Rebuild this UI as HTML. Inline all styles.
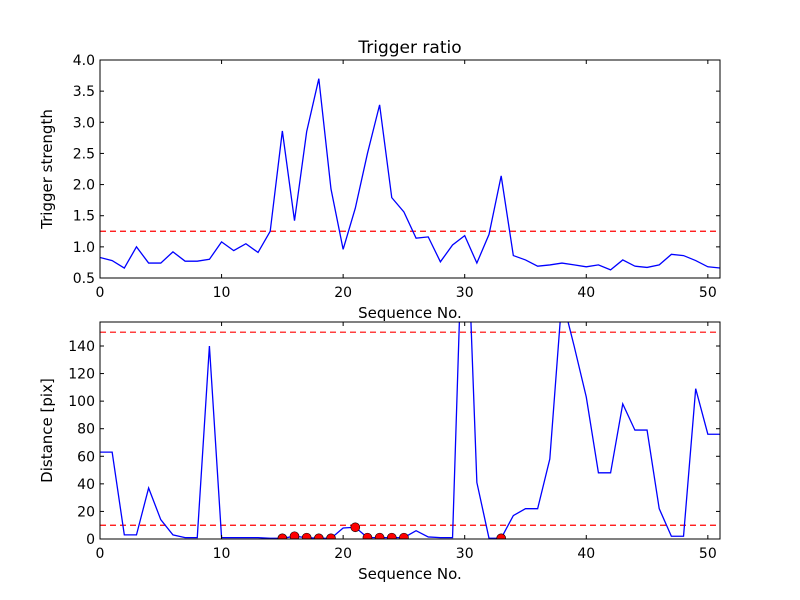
<!DOCTYPE html>
<html><head><meta charset="utf-8"><style>
html,body{margin:0;padding:0;background:#fff}
svg{display:block;font-family:"DejaVu Sans","Liberation Sans",sans-serif}
</style></head><body>
<svg id="chart" width="800" height="600" viewBox="0 0 800 600">
<rect width="800" height="600" fill="#fff"/>
<text x="410" y="53" font-size="17" text-anchor="middle">Trigger ratio</text>
<g id="topPanel"></g>
<g id="botPanel"></g>
</svg>
<script>
const seq = Array.from({length:52},(_,i)=>i);
const strength = [0.83,0.78,0.66,1.0,0.74,0.74,0.92,0.77,0.77,0.80,1.08,0.94,1.05,0.91,1.25,2.86,1.42,2.85,3.70,1.93,0.96,1.62,2.50,3.28,1.79,1.56,1.14,1.16,0.76,1.03,1.18,0.74,1.20,2.14,0.86,0.79,0.69,0.71,0.74,0.71,0.68,0.71,0.63,0.79,0.69,0.67,0.71,0.88,0.86,0.78,0.68,0.66];
const distance = [63,63,3,3,37,14,3,1,1,140,1,1,1,1,0.5,0.5,2,1,0.5,0.5,8,8.5,1,1,1,1,6,1.5,1,1,280,41,0.5,0.5,17,22,22,58,175,140,103,48,48,98,79,79,22,2,2,109,76,76];
const flagged = [15,16,17,18,19,21,22,23,24,25,33];
const strengthThreshold = [1.25];
const distanceThresholds = [10,150];
const xTicks = [0,10,20,30,40,50];
const yTicksTop = [0.5,1.0,1.5,2.0,2.5,3.0,3.5,4.0];
const yTicksBot = [0,20,40,60,80,100,120,140];

const NS="http://www.w3.org/2000/svg";
function mk(parent,tag,attrs){const e=document.createElementNS(NS,tag);for(const k in attrs)e.setAttribute(k,attrs[k]);parent.appendChild(e);return e;}

function panel(g,box,ymin,ymax,yTicks,ylab,fmt,series,thresholds,markers,name){
  const X=v=>box.x+(v-0)/(51-0)*box.w;
  const Y=v=>box.y+box.h-(v-ymin)/(ymax-ymin)*box.h;
  const cp=mk(g,'clipPath',{id:'clip-'+name});
  mk(cp,'rect',{x:box.x,y:box.y,width:box.w,height:box.h});
  const plot=mk(g,'g',{'clip-path':'url(#clip-'+name+')'});
  thresholds.forEach(t=>{
    const l=mk(plot,'line',{x1:box.x,x2:box.x+box.w,y1:Y(t),y2:Y(t),stroke:'#ff0000','stroke-width':1.2,'stroke-dasharray':'6,4'});
    
    
  });
  const p=mk(plot,'polyline',{points:seq.map(i=>X(i)+','+Y(series[i])).join(' '),fill:'none',stroke:'#0000ff','stroke-width':1.3});
  
  
  markers.forEach(i=>{
    const c=mk(plot,'circle',{cx:X(i),cy:Y(series[i]),r:4.5,fill:'#ff0000',stroke:'#000','stroke-width':0.6});
    
    
  });
  const fr=mk(g,'rect',{x:box.x,y:box.y,width:box.w,height:box.h,fill:'none',stroke:'#000','stroke-width':1});
  
  
  xTicks.forEach(t=>{
    mk(g,'line',{x1:X(t),x2:X(t),y1:box.y+box.h,y2:box.y+box.h-4,stroke:'#000'});
    mk(g,'line',{x1:X(t),x2:X(t),y1:box.y,y2:box.y+4,stroke:'#000'});
    const tx=mk(g,'text',{x:X(t),y:box.y+box.h+19,'font-size':14,'text-anchor':'middle'});
    tx.textContent=t;
    
    
  });
  yTicks.forEach(t=>{
    mk(g,'line',{x1:box.x,x2:box.x+4,y1:Y(t),y2:Y(t),stroke:'#000'});
    mk(g,'line',{x1:box.x+box.w,x2:box.x+box.w-4,y1:Y(t),y2:Y(t),stroke:'#000'});
    const tx=mk(g,'text',{x:box.x-5,y:Y(t)+5,'font-size':14,'text-anchor':'end'});
    tx.textContent=fmt(t);
    
    
  });
  const xl=mk(g,'text',{x:box.x+box.w/2,y:box.y+box.h+40,'font-size':15,'text-anchor':'middle'});
  xl.textContent='Sequence No.';
  
  
  const cy=box.y+box.h/2;
  const yl=mk(g,'text',{x:0,y:0,'font-size':15,'text-anchor':'middle',transform:'translate('+(box.x-48)+','+cy+') rotate(-90)'});
  yl.textContent=ylab;
  
  
}
const topG=document.getElementById('topPanel');


const botG=document.getElementById('botPanel');


panel(topG,{x:100,y:60,w:620,h:218},0.5,4.0,yTicksTop,'Trigger strength',t=>t.toFixed(1),strength,strengthThreshold,[],'strength');
panel(botG,{x:100,y:322,w:620,h:217},0,157.4,yTicksBot,'Distance [pix]',t=>String(t),distance,distanceThresholds,flagged,'distance');
</script>
</body></html>
